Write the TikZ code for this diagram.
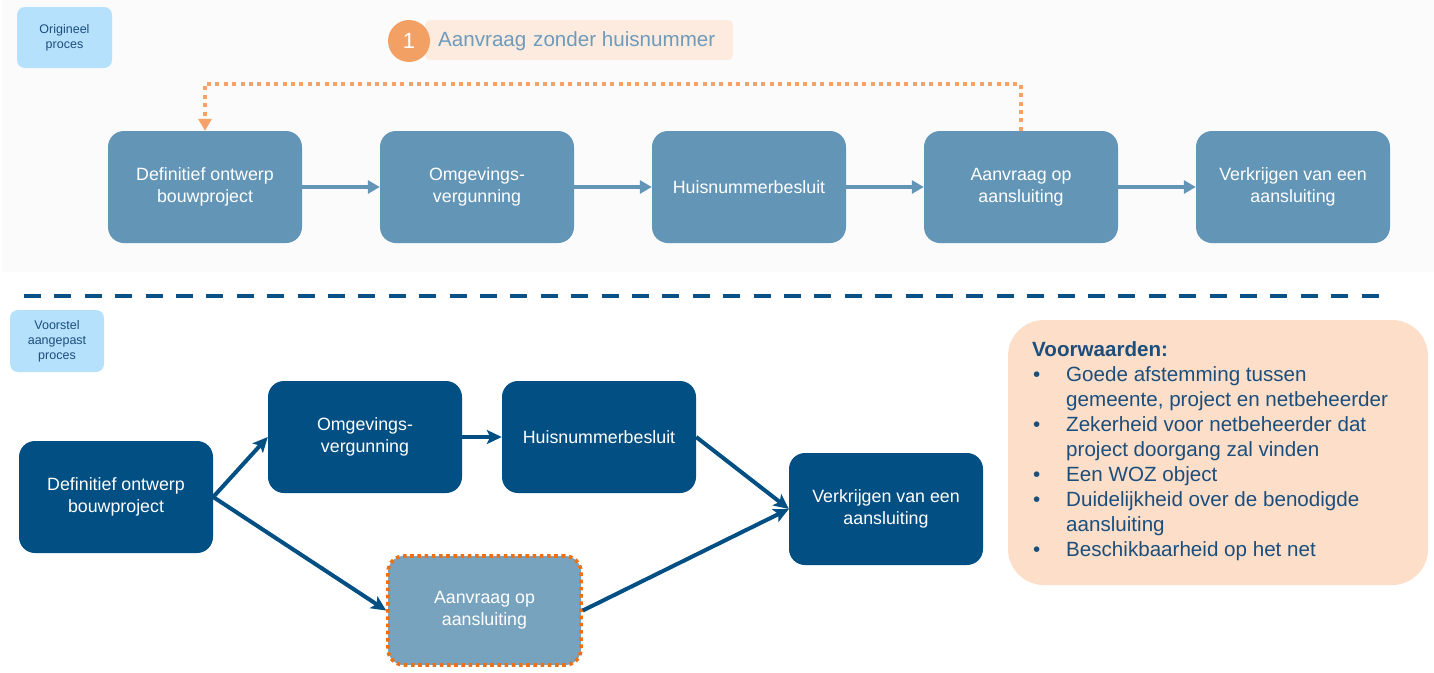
\documentclass[tikz,border=0pt]{standalone}
\usepackage{fontspec}
\setmainfont{Liberation Sans}
\usetikzlibrary{arrows.meta}
\definecolor{topbox}{HTML}{6395B6}
\definecolor{botbox}{HTML}{024F84}
\definecolor{paleblue}{HTML}{78A3BF}
\definecolor{lbl}{HTML}{B5E1FD}
\definecolor{lbltext}{HTML}{1C4E7C}
\definecolor{orangedot}{HTML}{F4A26A}
\definecolor{orangebd}{HTML}{EE6F14}
\definecolor{peach}{HTML}{FCDEC9}
\definecolor{peachlight}{HTML}{FDEBDF}
\definecolor{circ}{HTML}{F2A064}
\definecolor{graybg}{HTML}{FBFBFB}
\definecolor{labeltxt}{HTML}{6E9BBB}
\definecolor{dashblue}{HTML}{0A5185}
\tikzset{
  x=1pt, y=-1pt,
  procbox/.style={rounded corners=16pt, minimum width=194pt, minimum height=112pt, text=white, align=center, font=\fontsize{17.8}{22}\selectfont, inner sep=0pt},
  topproc/.style={procbox, fill=topbox},
  botproc/.style={procbox, fill=botbox},
  tagbox/.style={rounded corners=8pt, fill=lbl, text=lbltext, align=center, font=\fontsize{12.5}{15}\selectfont, inner sep=0pt},
  toparrow/.style={draw=topbox, line width=3.6pt, -{Triangle[length=12pt,width=13pt]}},
  botarrow/.style={draw=botbox, line width=4pt, -{Stealth[length=15pt,width=14pt,inset=3.5pt]}},
}
\begin{document}
\begin{tikzpicture}
\useasboundingbox (0,0) rectangle (1434,672);
\fill[white] (0,0) rectangle (1434,672);
\fill[graybg] (2,0) rectangle (1434,272);

% labels
\node[tagbox, minimum width=95pt, minimum height=61pt] (lbl1) at (64.5,37.5) {Origineel\\proces};
\node[tagbox, minimum width=94pt, minimum height=62pt] (lbl2) at (57,341) {Voorstel\\aangepast\\proces};

% callout
\node[fill=peachlight, rounded corners=5pt, minimum width=308pt, minimum height=40pt, inner sep=0pt] (callbg) at (579,40) {};
\node[anchor=west, text=labeltxt, font=\fontsize{20.6}{24}\selectfont, inner sep=0pt] (calltxt) at (438,41) {Aanvraag\,\,zonder huisnummer};
\node[circle, fill=circ, minimum size=42pt, inner sep=0pt, text=white, font=\fontsize{22}{24}\selectfont] (num) at (409,41) {1};

% top row
\node[topproc] (t1) at (205,187) {Definitief ontwerp\\bouwproject};
\node[topproc] (t2) at (477,187) {Omgevings-\\vergunning};
\node[topproc] (t3) at (749,187) {Huisnummerbesluit};
\node[topproc] (t4) at (1021,187) {Aanvraag op\\aansluiting};
\node[topproc] (t5) at (1293,187) {Verkrijgen van een\\aansluiting};
\draw[toparrow] (t1) -- (t2);
\draw[toparrow] (t2) -- (t3);
\draw[toparrow] (t3) -- (t4);
\draw[toparrow] (t4) -- (t5);

% dotted feedback
\coordinate (fb1) at (1021,84);
\coordinate (fb2) at (205,84);
\draw[orangedot, line width=4pt, dash pattern=on 4pt off 4.4pt, -{Triangle[length=12pt,width=13pt]}] (t4.north) -- (fb1) -- (fb2) -- (t1.north);

% separator
\coordinate (sepL) at (24,296);
\coordinate (sepR) at (1390,296);
\draw[dashblue, line width=4.2pt, dash pattern=on 17pt off 13.4pt] (sepL) -- (sepR);

% bottom
\node[botproc] (b1) at (116,497) {Definitief ontwerp\\bouwproject};
\node[botproc] (b2) at (365,437) {Omgevings-\\vergunning};
\node[botproc] (b3) at (599,437) {Huisnummerbesluit};
\node[botproc] (b5) at (886,509) {Verkrijgen van een\\aansluiting};
\node[procbox, fill=paleblue, draw=orangebd, line width=3.6pt, dash pattern=on 3.6pt off 3.6pt, minimum width=193pt, minimum height=109pt] (b4) at (484.5,610.5) {Aanvraag op\\aansluiting};

\draw[botarrow] (b1.east) -- (b2.west);
\draw[botarrow] (b1.east) -- (b4.west);
\draw[botarrow] (b2) -- (b3);
\draw[botarrow] (b3.east) -- (b5.west);
\draw[botarrow] (b4.east) -- (b5.west);

% conditions
\node[fill=peach, rounded corners=36pt, minimum width=420pt, minimum height=265pt, inner sep=0pt] (cond) at (1218,452.5) {};
\node[anchor=north west, text=lbltext, font=\fontsize{20.6}{25.1}\selectfont, align=left, inner sep=0pt] (condtxt) at (1032,341) {%
\textbf{Voorwaarden:}\\
\makebox[34pt][l]{\hspace{1pt}•}Goede afstemming tussen\\
\hspace*{34pt}gemeente, project en netbeheerder\\
\makebox[34pt][l]{\hspace{1pt}•}Zekerheid voor netbeheerder dat\\
\hspace*{34pt}project doorgang zal vinden\\
\makebox[34pt][l]{\hspace{1pt}•}Een WOZ object\\
\makebox[34pt][l]{\hspace{1pt}•}Duidelijkheid over de benodigde\\
\hspace*{34pt}aansluiting\\
\makebox[34pt][l]{\hspace{1pt}•}Beschikbaarheid op het net};
\end{tikzpicture}
\end{document}
